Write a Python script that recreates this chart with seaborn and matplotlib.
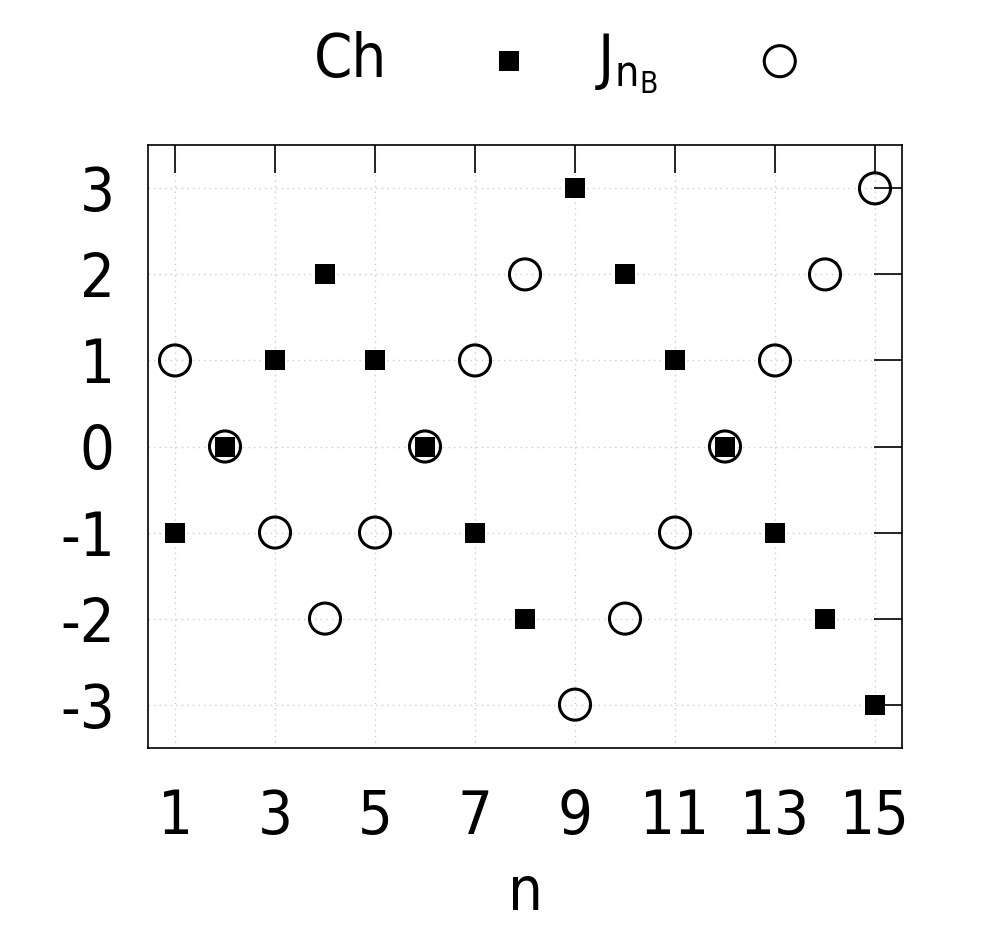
import matplotlib
matplotlib.use("Agg")
import matplotlib.pyplot as plt
import seaborn as sns
import pandas as pd

# values
n_values = list(range(1, 16))
ch_values = [-1, 0, 1, 2, 1, 0, -1, -2, 3, 2, 1, 0, -1, -2, -3]
j_values = [1, 0, -1, -2, -1, 0, 1, 2, -3, -2, -1, 0, 1, 2, 3]
x_ticks = [1, 3, 5, 7, 9, 11, 13, 15]
y_ticks = [-3, -2, -1, 0, 1, 2, 3]

sns.set_style("white")
plt.rcParams['font.family'] = ['DejaVu Sans']
plt.rcParams['font.stretch'] = 'condensed'
plt.rcParams['axes.unicode_minus'] = False
plt.rcParams['mathtext.default'] = 'regular'
plt.rcParams['text.color'] = 'black'
plt.rcParams['axes.labelcolor'] = 'black'
plt.rcParams['xtick.color'] = 'black'
plt.rcParams['ytick.color'] = 'black'

df = pd.DataFrame({"n": n_values, "Ch": ch_values, "J": j_values})

fig = plt.figure(figsize=(10, 9.5), dpi=100)
ax = fig.add_axes([0.148, 0.213, 0.754, 0.634])

sns.scatterplot(data=df, x="n", y="Ch", marker="s", s=210, color="black",
                linewidth=0, ax=ax, label="Ch", legend=False, zorder=3)
sns.scatterplot(data=df, x="n", y="J", marker="o", s=500, color="black",
                facecolor="none", edgecolor="black", linewidth=2.2, ax=ax,
                label=r"$J_{n_B}$", legend=False, zorder=4)

ax.set_xlim(0.46, 15.54)
ax.set_ylim(-3.5, 3.5)
ax.set_xticks(x_ticks)
ax.set_yticks(y_ticks)
ax.tick_params(direction="in", length=20, width=1.2, top=True, right=True,
               labelsize=44)
ax.tick_params(axis="x", pad=29)
ax.tick_params(axis="y", pad=24)
ax.grid(True, linestyle=(0, (1, 3)), color="#cccccc", linewidth=1)
ax.set_axisbelow(True)
for sp in ax.spines.values():
    sp.set_linewidth(1.2)
    sp.set_color("black")

ax.set_xlabel("n", fontsize=44, labelpad=12)
ax.set_ylabel("")

handles, labels = ax.get_legend_handles_labels()
fig.legend(handles, labels, loc="center", bbox_to_anchor=(0.562, 0.933),
           ncol=2, markerfirst=False, frameon=False, fontsize=44,
           handlelength=1.0, handletextpad=1.5, columnspacing=0.9,
           scatterpoints=1)

fig.savefig("out.png", dpi=100)
